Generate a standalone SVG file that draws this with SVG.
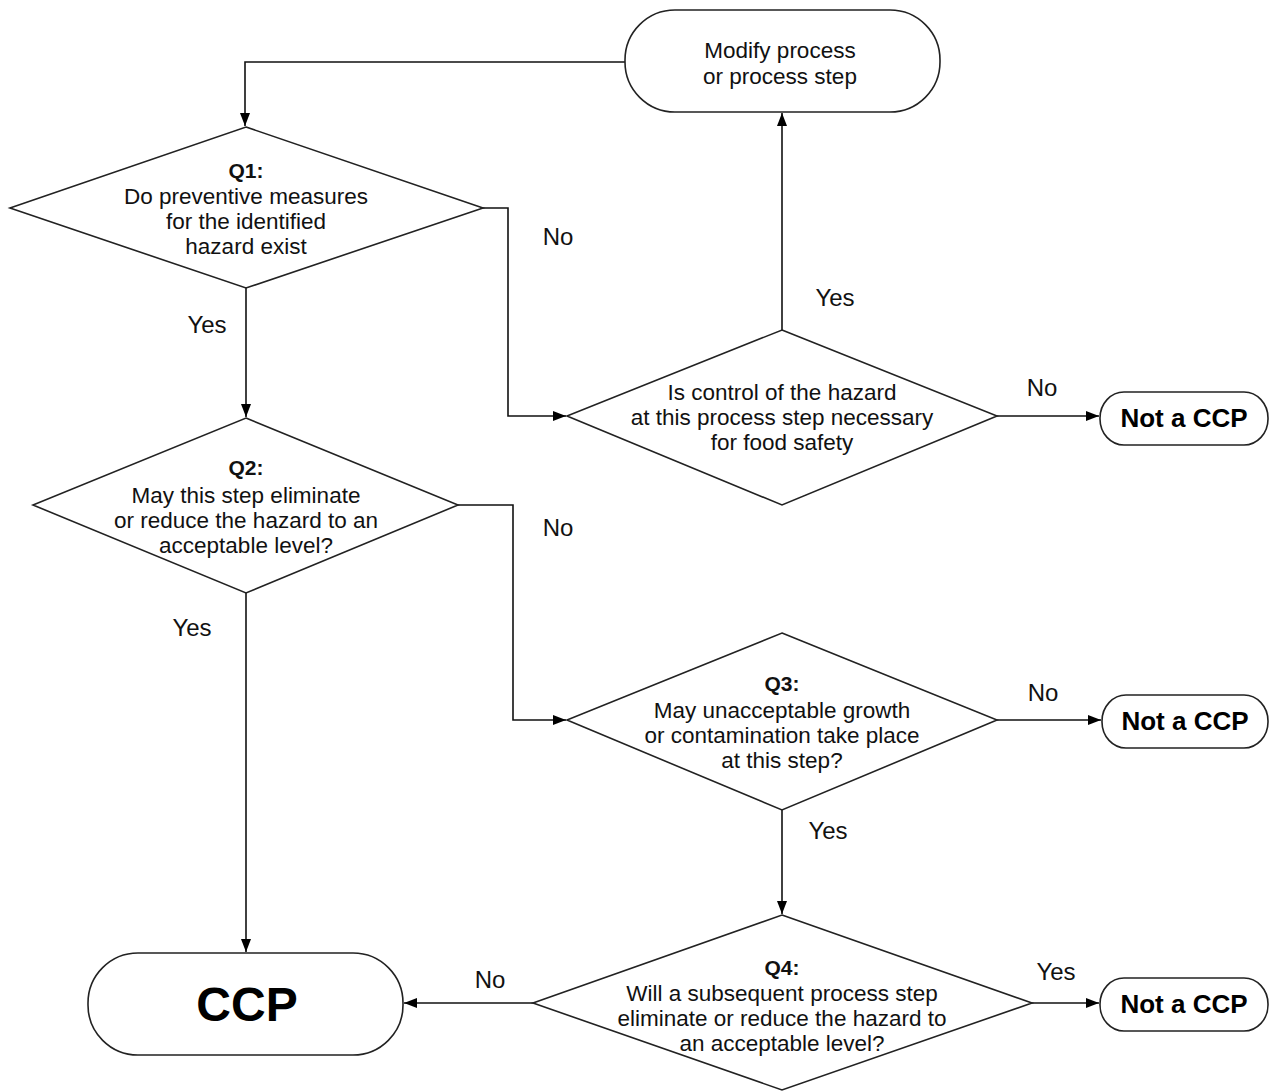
<svg xmlns="http://www.w3.org/2000/svg" width="1276" height="1091" viewBox="0 0 1276 1091">
<style>
.shape{fill:#fff;stroke:#222;stroke-width:1.6}
.t{font-family:"Liberation Sans",Arial,sans-serif;font-size:22.5px;fill:#111;text-anchor:middle}
.q{font-weight:bold;font-size:21px}
.lbl{font-family:"Liberation Sans",Arial,sans-serif;font-size:24px;fill:#111;text-anchor:middle}
.nc{font-family:"Liberation Sans",Arial,sans-serif;font-size:26px;font-weight:bold;fill:#000;text-anchor:middle}
.conn{fill:none;stroke:#111;stroke-width:1.6}
</style>
<defs>
<marker id="arr" viewBox="0 0 13 10" refX="13" refY="5" markerWidth="13" markerHeight="10" markerUnits="userSpaceOnUse" orient="auto">
<path d="M0,0 L13,5 L0,10 z" fill="#000"/>
</marker>
</defs>
<rect width="1276" height="1091" fill="#fff"/>
<g id="connectors">
<path class="conn" d="M625,62 H245 V126" marker-end="url(#arr)"/>
<path class="conn" d="M483,208 H508 V416 H566" marker-end="url(#arr)"/>
<path class="conn" d="M246,288 V417" marker-end="url(#arr)"/>
<path class="conn" d="M782,330 V113" marker-end="url(#arr)"/>
<path class="conn" d="M997,416 H1099" marker-end="url(#arr)"/>
<path class="conn" d="M458,505 H513 V720 H566" marker-end="url(#arr)"/>
<path class="conn" d="M246,593 V952" marker-end="url(#arr)"/>
<path class="conn" d="M997,720 H1101" marker-end="url(#arr)"/>
<path class="conn" d="M782,810 V914" marker-end="url(#arr)"/>
<path class="conn" d="M533,1003 H404" marker-end="url(#arr)"/>
<path class="conn" d="M1032,1003 H1099" marker-end="url(#arr)"/>
<text class="lbl" x="558" y="245">No</text>
<text class="lbl" x="207" y="333">Yes</text>
<text class="lbl" x="835" y="306">Yes</text>
<text class="lbl" x="1042" y="396">No</text>
<text class="lbl" x="558" y="536">No</text>
<text class="lbl" x="192" y="636">Yes</text>
<text class="lbl" x="1043" y="701">No</text>
<text class="lbl" x="828" y="839">Yes</text>
<text class="lbl" x="490" y="988">No</text>
<text class="lbl" x="1056" y="980">Yes</text>
</g>
<g id="modify">
<rect class="shape" x="625" y="10" width="315" height="102" rx="50" ry="50"/>
<text class="t" x="780" y="58">Modify process</text>
<text class="t" x="780" y="84">or process step</text>
</g>
<g id="q1">
<polygon class="shape" points="246,127 483,208 246,288 10,208"/>
<text class="t q" x="246" y="178">Q1:</text>
<text class="t" x="246" y="204">Do preventive measures</text>
<text class="t" x="246" y="229">for the identified</text>
<text class="t" x="246" y="254">hazard exist</text>
</g>
<g id="control">
<polygon class="shape" points="782,330 997,416 782,505 567,416"/>
<text class="t" x="782" y="400">Is control of the hazard</text>
<text class="t" x="782" y="425">at this process step necessary</text>
<text class="t" x="782" y="450">for food safety</text>
</g>
<g id="notccp1">
<rect class="shape" x="1100" y="392" width="168" height="53" rx="24" ry="26"/>
<text class="nc" x="1184" y="427">Not a CCP</text>
</g>
<g id="q2">
<polygon class="shape" points="246,418 458,505 246,593 33,505"/>
<text class="t q" x="246" y="475">Q2:</text>
<text class="t" x="246" y="503">May this step eliminate</text>
<text class="t" x="246" y="528">or reduce the hazard to an</text>
<text class="t" x="246" y="553">acceptable level?</text>
</g>
<g id="q3">
<polygon class="shape" points="782,633 997,720 782,810 567,720"/>
<text class="t q" x="782" y="691">Q3:</text>
<text class="t" x="782" y="718">May unacceptable growth</text>
<text class="t" x="782" y="743">or contamination take place</text>
<text class="t" x="782" y="768">at this step?</text>
</g>
<g id="notccp2">
<rect class="shape" x="1102" y="695" width="166" height="53" rx="24" ry="26"/>
<text class="nc" x="1185" y="730">Not a CCP</text>
</g>
<g id="q4">
<polygon class="shape" points="782,915 1032,1003 782,1090 533,1003"/>
<text class="t q" x="782" y="975">Q4:</text>
<text class="t" x="782" y="1001">Will a subsequent process step</text>
<text class="t" x="782" y="1026">eliminate or reduce the hazard to</text>
<text class="t" x="782" y="1051">an acceptable level?</text>
</g>
<g id="notccp3">
<rect class="shape" x="1100" y="978" width="168" height="53" rx="24" ry="26"/>
<text class="nc" x="1184" y="1013">Not a CCP</text>
</g>
<g id="ccp">
<rect class="shape" x="88" y="953" width="315" height="102" rx="50" ry="50"/>
<text class="nc" x="247" y="1021" style="font-size:48px">CCP</text>
</g>
</svg>
